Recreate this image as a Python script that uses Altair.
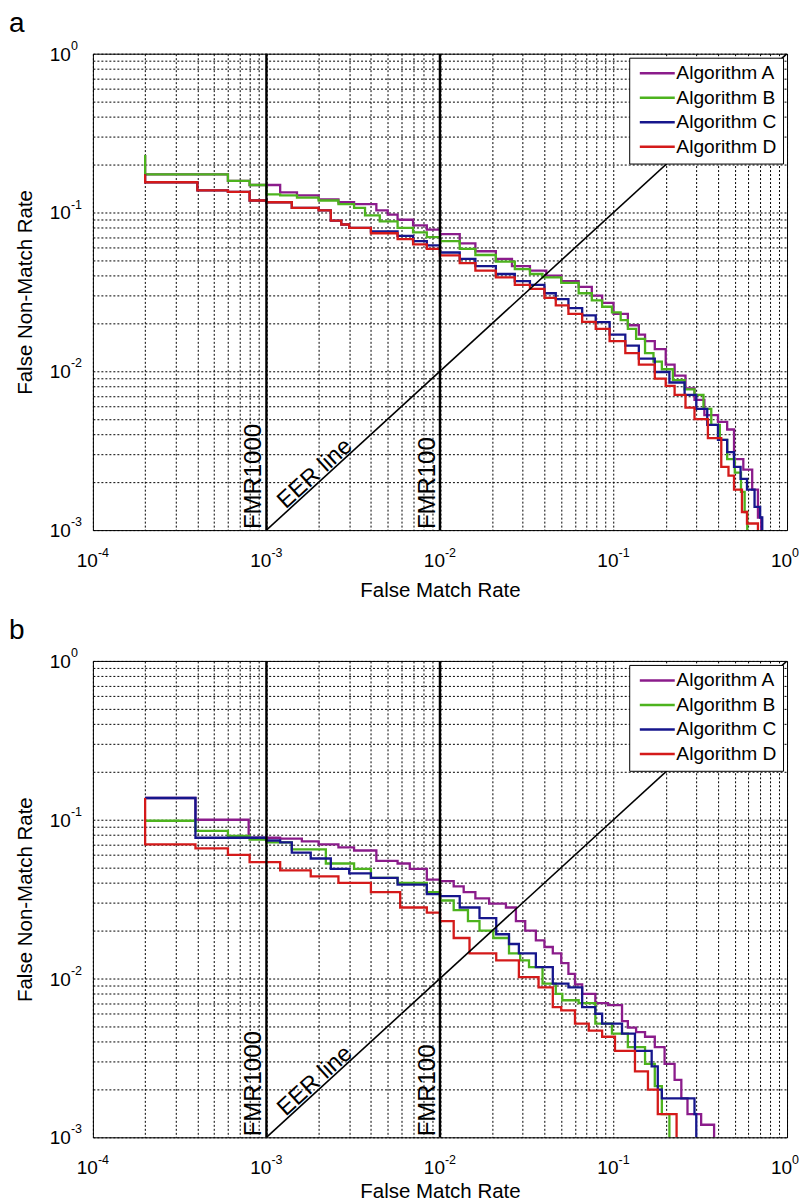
import altair as alt
import pandas as pd

ALGOS = ["Algorithm A", "Algorithm B", "Algorithm C", "Algorithm D"]
COLORS = ["#8B1C8B", "#4DB31E", "#16168C", "#D41A1A"]

X_DECADES = [-4, -3, -2, -1, 0]
Y_DECADES = [-3, -2, -1, 0]

FMR_LIMITS = [1e-3, 1e-2]
FMR_LABELS = ["FMR1000", "FMR100"]
EER_ENDS = [1e-3, 1.0]
EER_LABEL_AT = 2.06e-3

# ---------------- panel a ----------------
a_A_fmr = [2e-4, 2e-4, 6e-4, 8e-4, 1.0e-3, 1.2e-3, 1.5e-3, 2.0e-3, 2.6e-3, 3.2e-3, 4.3e-3, 5.0e-3, 5.7e-3,
           7.0e-3, 8.4e-3, 1.0e-2, 1.3e-2, 1.6e-2, 2.1e-2, 2.6e-2, 3.3e-2, 4.1e-2, 5.0e-2, 6.3e-2, 7.5e-2,
           8.6e-2, 0.10, 0.121, 0.14, 0.152, 0.173, 0.2, 0.225, 0.26, 0.293, 0.334, 0.40, 0.452, 0.495,
           0.56, 0.63, 0.68, 0.71]
a_A_fnmr = [0.23, 0.174, 0.158, 0.149, 0.149, 0.134, 0.128, 0.121, 0.116, 0.113, 0.103, 0.097, 0.090,
            0.083, 0.078, 0.073, 0.064, 0.057, 0.051, 0.046, 0.043, 0.040, 0.037, 0.034, 0.030,
            0.027, 0.023, 0.0195, 0.017, 0.0155, 0.0138, 0.011, 0.0094, 0.0078, 0.0066, 0.0053, 0.0048,
            0.0043, 0.0028, 0.0024, 0.0018, 0.0012, 0.001]

a_B_fmr = [2e-4, 2e-4, 6e-4, 8e-4, 1.0e-3, 1.2e-3, 1.5e-3, 2.0e-3, 2.6e-3, 3.2e-3, 3.7e-3, 4.5e-3, 5.7e-3,
           7.0e-3, 8.4e-3, 1.0e-2, 1.3e-2, 1.6e-2, 2.1e-2, 2.7e-2, 3.3e-2, 3.9e-2, 5.0e-2, 6.3e-2, 7.5e-2,
           8.6e-2, 0.098, 0.11, 0.121, 0.135, 0.152, 0.17, 0.19, 0.22, 0.257, 0.293, 0.33, 0.366, 0.41,
           0.452, 0.50, 0.543, 0.57, 0.59]
a_B_fnmr = [0.23, 0.174, 0.158, 0.149, 0.130, 0.128, 0.124, 0.119, 0.113, 0.107, 0.096, 0.088, 0.080,
            0.075, 0.070, 0.066, 0.059, 0.054, 0.049, 0.044, 0.041, 0.039, 0.036, 0.031, 0.028,
            0.0255, 0.0235, 0.021, 0.0185, 0.016, 0.013, 0.0115, 0.0103, 0.0088, 0.0077, 0.0071, 0.0058,
            0.0046, 0.0037, 0.0028, 0.0023, 0.00174, 0.0013, 0.001]

a_C_fmr = [2e-4, 2e-4, 4e-4, 6e-4, 8e-4, 1.0e-3, 1.4e-3, 2.0e-3, 2.35e-3, 2.7e-3, 3.0e-3, 4.0e-3, 5.7e-3,
           7.0e-3, 8.4e-3, 1.0e-2, 1.3e-2, 1.6e-2, 2.1e-2, 2.7e-2, 3.3e-2, 4.0e-2, 4.65e-2, 5.5e-2,
           6.6e-2, 7.9e-2, 9.5e-2, 0.117, 0.14, 0.173, 0.21, 0.257, 0.30, 0.347, 0.40, 0.452, 0.495,
           0.54, 0.588, 0.65, 0.70, 0.72]
a_C_fnmr = [0.174, 0.155, 0.138, 0.135, 0.119, 0.116, 0.107, 0.103, 0.089, 0.084, 0.080, 0.076, 0.0713,
            0.066, 0.062, 0.056, 0.051, 0.046, 0.041, 0.037, 0.035, 0.031, 0.0285, 0.025,
            0.0225, 0.0204, 0.017, 0.0145, 0.012, 0.0099, 0.0085, 0.0071, 0.0058, 0.0046, 0.0037,
            0.0031, 0.0025, 0.0021, 0.0018, 0.0014, 0.0012, 0.001]

a_D_fmr = [2e-4, 2e-4, 4e-4, 6e-4, 8e-4, 1.0e-3, 1.4e-3, 2.0e-3, 2.35e-3, 2.7e-3, 3.0e-3, 4.0e-3, 5.7e-3,
           7.0e-3, 8.4e-3, 1.0e-2, 1.3e-2, 1.6e-2, 2.1e-2, 2.7e-2, 3.3e-2, 4.0e-2, 4.65e-2, 5.5e-2,
           6.6e-2, 7.9e-2, 9.5e-2, 0.117, 0.14, 0.173, 0.20, 0.225, 0.26, 0.293, 0.35, 0.418, 0.46,
           0.495, 0.55, 0.588, 0.63, 0.68]
a_D_fnmr = [0.174, 0.155, 0.138, 0.135, 0.119, 0.116, 0.107, 0.103, 0.089, 0.084, 0.080, 0.074, 0.068,
            0.063, 0.059, 0.0537, 0.048, 0.043, 0.039, 0.035, 0.033, 0.029, 0.026, 0.023,
            0.0205, 0.0185, 0.0155, 0.013, 0.011, 0.009, 0.0081, 0.0071, 0.0059, 0.005, 0.0038, 0.0025,
            0.0022, 0.0018, 0.0013, 0.0011, 0.0011, 0.001]

# ---------------- panel b ----------------
b_A_fmr = [2e-4, 3.9e-4, 7.9e-4, 1.2e-3, 1.6e-3, 2.0e-3, 2.6e-3, 3.2e-3, 4.3e-3, 5.7e-3, 6.7e-3, 8.4e-3,
           1.0e-2, 1.2e-2, 1.37e-2, 1.6e-2, 1.92e-2, 2.4e-2, 2.74e-2, 3.1e-2, 3.57e-2, 4.0e-2, 4.47e-2,
           5.0e-2, 5.5e-2, 6.0e-2, 6.6e-2, 7.86e-2, 9.3e-2, 0.112, 0.121, 0.135, 0.152, 0.173, 0.197,
           0.225, 0.246, 0.267, 0.32, 0.38]
b_A_fnmr = [0.137, 0.1, 0.077, 0.076, 0.073, 0.070, 0.067, 0.064, 0.055, 0.053, 0.049, 0.042,
            0.041, 0.038, 0.035, 0.032, 0.0296, 0.028, 0.023, 0.020, 0.0174, 0.0158, 0.0144,
            0.0125, 0.0107, 0.0092, 0.008, 0.0070, 0.0068, 0.0054, 0.0049, 0.0046, 0.0043, 0.0037, 0.0029,
            0.0023, 0.00176, 0.0014, 0.0012, 0.001]

b_B_fmr = [2e-4, 3.9e-4, 6e-4, 8e-4, 1.0e-3, 1.4e-3, 2.2e-3, 3.2e-3, 4.0e-3, 5.7e-3, 8.4e-3, 1.0e-2,
           1.2e-2, 1.45e-2, 1.69e-2, 2.03e-2, 2.5e-2, 2.9e-2, 3.26e-2, 3.9e-2, 4.65e-2, 5.07e-2,
           6.3e-2, 7.86e-2, 9.8e-2, 0.121, 0.152, 0.173, 0.19, 0.21]
b_B_fnmr = [0.0985, 0.085, 0.079, 0.075, 0.072, 0.065, 0.053, 0.049, 0.043, 0.040, 0.035, 0.031,
            0.027, 0.023, 0.020, 0.018, 0.0144, 0.013, 0.0118, 0.0093, 0.008, 0.0073,
            0.0070, 0.0052, 0.0045, 0.0037, 0.0029, 0.0021, 0.0014, 0.001]

b_C_fmr = [2e-4, 3.9e-4, 1.0e-3, 1.2e-3, 1.4e-3, 1.8e-3, 2.35e-3, 3.0e-3, 4.0e-3, 5.7e-3, 8.4e-3,
           1.0e-2, 1.3e-2, 1.69e-2, 2.11e-2, 2.5e-2, 2.85e-2, 3.57e-2, 4.47e-2, 5.5e-2, 6.6e-2,
           7.86e-2, 8.6e-2, 0.112, 0.133, 0.166, 0.18, 0.19, 0.293, 0.30]
b_C_fnmr = [0.137, 0.077, 0.074, 0.072, 0.062, 0.057, 0.049, 0.046, 0.043, 0.039, 0.034,
            0.033, 0.028, 0.024, 0.019, 0.0165, 0.0144, 0.0118, 0.0093, 0.0088, 0.0066,
            0.006, 0.0052, 0.0045, 0.0035, 0.0028, 0.0020, 0.00176, 0.0014, 0.001]

b_D_fmr = [2e-4, 2e-4, 3.9e-4, 6e-4, 8e-4, 1.2e-3, 1.8e-3, 2.6e-3, 4.0e-3, 5.9e-3, 8.4e-3, 1.0e-2,
           1.2e-2, 1.48e-2, 2.11e-2, 2.85e-2, 3.7e-2, 4.47e-2, 5.0e-2, 6.0e-2, 7.2e-2, 8.6e-2,
           0.102, 0.133, 0.158, 0.18, 0.231]
b_D_fnmr = [0.137, 0.070, 0.066, 0.060, 0.054, 0.048, 0.044, 0.040, 0.035, 0.028, 0.026, 0.023,
            0.018, 0.0144, 0.013, 0.0102, 0.0088, 0.0066, 0.0063, 0.0052, 0.0047, 0.0043,
            0.0035, 0.0026, 0.0020, 0.0014, 0.001]

PANEL_A = [(a_A_fmr, a_A_fnmr), (a_B_fmr, a_B_fnmr), (a_C_fmr, a_C_fnmr), (a_D_fmr, a_D_fnmr)]
PANEL_B = [(b_A_fmr, b_A_fnmr), (b_B_fmr, b_B_fnmr), (b_C_fmr, b_C_fnmr), (b_D_fmr, b_D_fnmr)]

# ---------------- layout / style ----------------
W, H = 695, 477
FONT = "Liberation Sans"

x_grid = [m * 10.0 ** e for e in range(-4, 0) for m in range(1, 10)] + [1.0]
y_grid = [m * 10.0 ** e for e in range(-3, 0) for m in range(1, 10)] + [1.0]


def x_enc(title_pad):
    return alt.X("fmr:Q", scale=alt.Scale(type="log", domain=[1e-4, 1]),
                 axis=alt.Axis(values=x_grid, labels=False, ticks=False, domain=False, grid=True,
                               title="False Match Rate", titleFontSize=20.5, titleFontWeight="normal",
                               titleColor="black", titlePadding=title_pad))


Y = alt.Y("fnmr:Q", scale=alt.Scale(type="log", domain=[1e-3, 1]),
          axis=alt.Axis(values=y_grid, labels=False, ticks=False, domain=False, grid=True,
                        title="False Non-Match Rate", titleFontSize=20.5, titleFontWeight="normal",
                        titleColor="black", titlePadding=57))

legend = alt.Legend(title=None, orient="top-right", offset=4, fillColor="white", strokeColor="black",
                    padding=6, labelFontSize=19.2, labelColor="black", labelFont=FONT,
                    symbolType="M-1,0H6", symbolSize=100, symbolStrokeWidth=2.5,
                    labelOffset=22, rowPadding=4.5)
COLOR = alt.Color("algo:N", scale=alt.Scale(domain=ALGOS, range=COLORS), legend=legend)


def curve_frame(curves):
    rows = []
    for algo, (fmr, fnmr) in zip(ALGOS, curves):
        assert len(fmr) == len(fnmr), algo
        for i, (fx, fy) in enumerate(zip(fmr, fnmr)):
            rows.append({"algo": algo, "fmr": fx, "fnmr": fy, "i": i})
    return pd.DataFrame(rows)


def panel(letter, curves, title_pad):
    X = x_enc(title_pad)
    df = curve_frame(curves)
    layers = []
    for algo in ALGOS:
        layers.append(
            alt.Chart(df[df["algo"] == algo]).mark_line(interpolate="step-after", strokeWidth=2.3, clip=True)
            .encode(x=X, y=Y, color=COLOR, order="i:Q")
        )
    eer = pd.DataFrame({"fmr": EER_ENDS, "fnmr": EER_ENDS})
    layers.append(alt.Chart(eer).mark_line(color="black", strokeWidth=1.6, clip=True).encode(x=X, y=Y))
    thr = pd.DataFrame({"fmr": FMR_LIMITS, "fnmr": [1e-3, 1e-3], "label": FMR_LABELS})
    layers.append(alt.Chart(thr).mark_rule(color="black", strokeWidth=2.4).encode(x=X))
    layers.append(alt.Chart(thr).mark_text(angle=270, align="left", baseline="bottom", fontSize=24,
                                           font=FONT, color="black", dx=1)
                  .encode(x=X, y=Y, text="label:N"))
    eer_lab = pd.DataFrame({"fmr": [EER_LABEL_AT], "fnmr": [EER_LABEL_AT], "label": ["EER line"]})
    layers.append(alt.Chart(eer_lab).mark_text(angle=317.7, align="center", baseline="alphabetic",
                                               fontSize=23.5, font=FONT, color="black", dy=-2)
                  .encode(x=X, y=Y, text="label:N"))
    # tick labels (10 with superscript exponent)
    xt = pd.DataFrame({"fmr": [10.0 ** e for e in X_DECADES], "fnmr": [1e-3] * len(X_DECADES),
                       "base": ["10"] * len(X_DECADES), "exp": [str(e) for e in X_DECADES]})
    yt = pd.DataFrame({"fmr": [1e-4] * len(Y_DECADES), "fnmr": [10.0 ** e for e in Y_DECADES],
                       "base": ["10"] * len(Y_DECADES), "exp": [str(e) for e in Y_DECADES]})
    layers.append(alt.Chart(xt).mark_text(align="right", baseline="alphabetic", fontSize=19, font=FONT,
                                          color="black", dx=5, dy=37).encode(x=X, y=Y, text="base:N"))
    layers.append(alt.Chart(xt).mark_text(align="left", baseline="alphabetic", fontSize=12.5, font=FONT,
                                          color="black", dx=5, dy=27).encode(x=X, y=Y, text="exp:N"))
    layers.append(alt.Chart(yt).mark_text(align="right", baseline="alphabetic", fontSize=19, font=FONT,
                                          color="black", dx=-22, dy=7).encode(x=X, y=Y, text="base:N"))
    layers.append(alt.Chart(yt).mark_text(align="left", baseline="alphabetic", fontSize=12.5, font=FONT,
                                          color="black", dx=-22, dy=-4).encode(x=X, y=Y, text="exp:N"))
    return alt.layer(*layers).properties(
        width=W, height=H,
        title=alt.TitleParams(text=letter, anchor="start", frame="group", fontSize=28, fontWeight="normal",
                              font=FONT, color="black", dx=-84, offset=2),
    )


chart = (
    alt.vconcat(panel("a", PANEL_A, 50), panel("b", PANEL_B, 44), spacing=15)
    .resolve_legend(color="independent")
    .properties(padding={"left": 0, "top": 0, "right": 0, "bottom": 0})
    .configure(font=FONT)
    .configure_view(stroke="black", strokeWidth=1)
    .configure_axis(gridColor="black", gridDash=[2, 2], gridWidth=1, gridOpacity=1)
)

chart.save("out.html", embed_options={"renderer": "svg", "actions": False})
